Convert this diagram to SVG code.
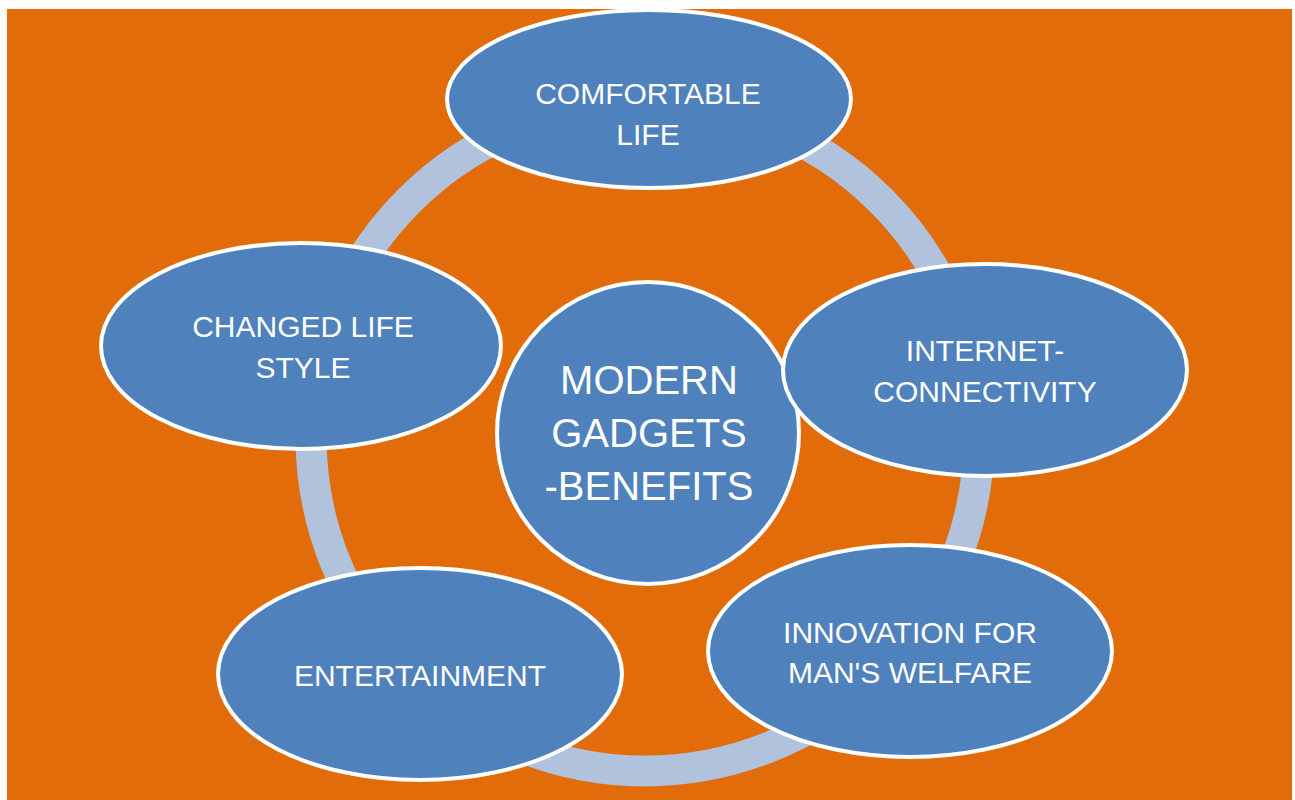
<svg xmlns="http://www.w3.org/2000/svg" width="1295" height="800" viewBox="0 0 1295 800">
<style>
.node{fill:#4f81bd;stroke:#ffffff;stroke-width:4}
.t{font-family:"Liberation Sans",Arial,sans-serif;font-size:30px;fill:#ffffff;text-anchor:middle}
.c{font-size:40px}
</style>
<rect x="0" y="0" width="1295" height="800" fill="#ffffff"/>
<rect x="7" y="9" width="1285" height="791" fill="#e26b0a"/>
<g id="connectors">
<circle cx="645" cy="437" r="334" fill="none" stroke="#b1c2dd" stroke-width="31"/>
</g>
<g id="center">
<circle class="node" cx="648" cy="433" r="151"/>
<text class="t c" x="649" y="394">MODERN</text>
<text class="t c" x="649" y="447">GADGETS</text>
<text class="t c" x="649" y="500">-BENEFITS</text>
</g>
<g id="comfortable">
<ellipse class="node" cx="649" cy="99" rx="202" ry="89"/>
<text class="t" x="648" y="104">COMFORTABLE</text>
<text class="t" x="648" y="145">LIFE</text>
</g>
<g id="internet">
<ellipse class="node" cx="985" cy="370" rx="202" ry="106"/>
<text class="t" x="985" y="361">INTERNET-</text>
<text class="t" x="985" y="402">CONNECTIVITY</text>
</g>
<g id="innovation">
<ellipse class="node" cx="910" cy="651" rx="202" ry="106"/>
<text class="t" x="910" y="643">INNOVATION FOR</text>
<text class="t" x="910" y="683">MAN'S WELFARE</text>
</g>
<g id="entertainment">
<ellipse class="node" cx="420" cy="674" rx="202" ry="106"/>
<text class="t" x="420" y="686">ENTERTAINMENT</text>
</g>
<g id="lifestyle">
<ellipse class="node" cx="301" cy="346" rx="200" ry="103"/>
<text class="t" x="303" y="337">CHANGED LIFE</text>
<text class="t" x="303" y="378">STYLE</text>
</g>
</svg>
